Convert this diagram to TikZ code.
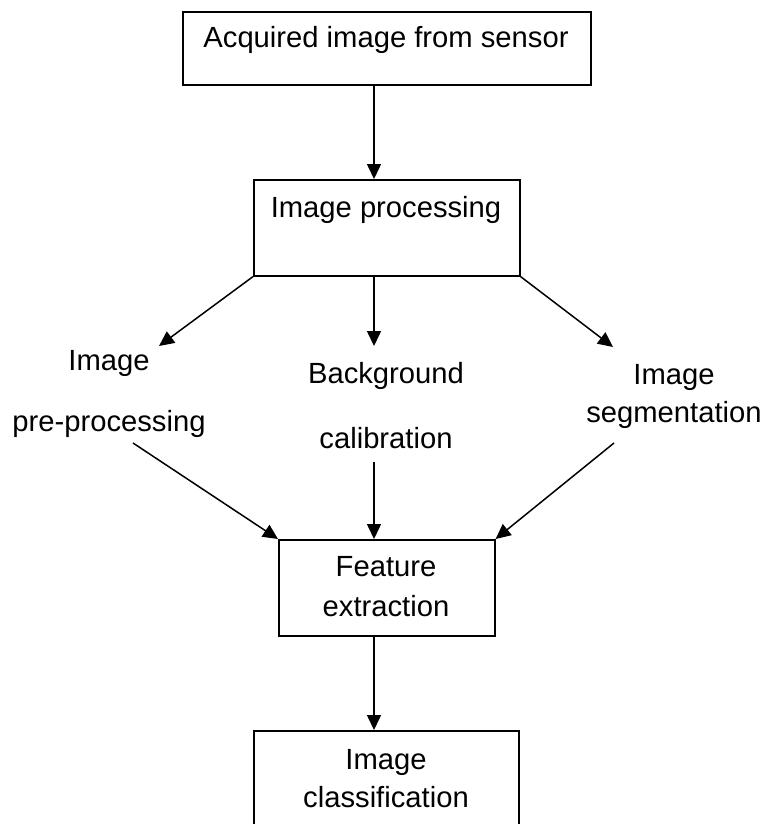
\documentclass[tikz,border=0pt]{standalone}
\usepackage{fontspec}
\setmainfont{Liberation Sans}
\usetikzlibrary{arrows.meta,calc}

\begin{document}
\begin{tikzpicture}[x=1pt,y=-1pt,
  box/.style={draw,line width=1.6pt,rectangle,inner sep=0pt,anchor=north west},
  txt/.style={anchor=base,inner sep=0pt,font=\fontsize{29.2pt}{35pt}\selectfont},
  arr/.style={line width=1.5pt,-{Triangle[length=15pt,width=14pt]}}]
\useasboundingbox (0,0) rectangle (765,824);

% boxes
\node[box,minimum width=408pt,minimum height=73pt] (b1) at (182,11) {};
\node[box,minimum width=266pt,minimum height=96pt] (b2) at (253,179) {};
\node[box,minimum width=216pt,minimum height=96pt] (b3) at (278,539) {};
\node[box,minimum width=265pt,minimum height=120pt] (b4) at (253,730) {};

% texts
\node[txt] (t1) at (386,48) {Acquired image from sensor};
\node[txt] (t2) at (386,217) {Image processing};
\node[txt] (l1a) at (109,370) {Image};
\node[txt] (l1b) at (109,431) {pre-processing};
\node[txt] (l2a) at (386,383) {Background};
\node[txt] (l2b) at (386,448) {calibration};
\node[txt] (l3a) at (674,384) {Image};
\node[txt] (l3b) at (674,422) {segmentation};
\node[txt] (t3a) at (386,576) {Feature};
\node[txt] (t3b) at (386,616) {extraction};
\node[txt] (t4a) at (386,769) {Image};
\node[txt] (t4b) at (386,807) {classification};

% connector ends
\coordinate (axis) at (374,0);
\coordinate (tipL) at (159,346);
\coordinate (tipM) at (374,346);
\coordinate (tipR) at (613,347);
\coordinate (srcL) at (133,443);
\coordinate (srcM) at (374,462);
\coordinate (srcR) at (614,443);

% connectors
\draw[arr] (axis |- b1.south) -- (axis |- b2.north);
\draw[arr] (b2.south west) -- (tipL);
\draw[arr] (axis |- b2.south) -- (tipM);
\draw[arr] (b2.south east) -- (tipR);
\draw[arr] (srcL) -- (b3.north west);
\draw[arr] (srcM) -- (axis |- b3.north);
\draw[arr] (srcR) -- (b3.north east);
\draw[arr] (axis |- b3.south) -- (axis |- b4.north);
\end{tikzpicture}
\end{document}
